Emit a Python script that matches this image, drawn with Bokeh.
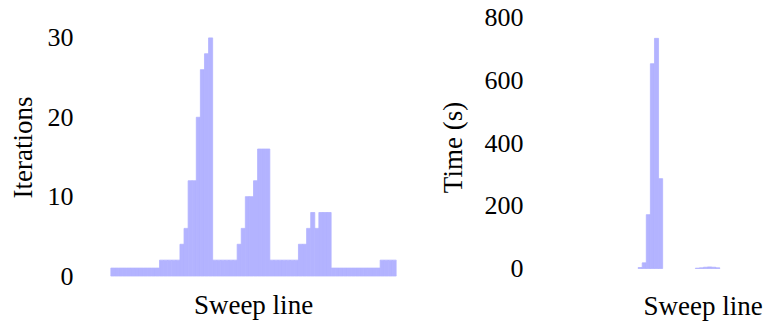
from bokeh.plotting import figure
from bokeh.layouts import row
from bokeh.models import ColumnDataSource, FixedTicker, Range1d, Title
from bokeh.embed import file_html
from bokeh.resources import INLINE

# ---- data ----
iterations = [1, 1, 1, 1, 1, 1, 1, 1, 1, 1, 1, 1,
              2, 2, 2, 2, 2,
              4, 6, 12, 12, 20, 26, 28, 30,
              2, 2, 2, 2, 2, 2,
              4, 6, 10, 10, 12, 16, 16, 16,
              2, 2, 2, 2, 2, 2, 2,
              4, 4, 6, 8, 6, 8, 8, 8,
              1, 1, 1, 1, 1, 1, 1, 1, 1, 1, 1, 1,
              2, 2, 2, 2]
time_s = [0, 0, 0, 0, 0, 0, 0, 0, 0, 0, 0, 0,
          0, 0, 0, 0, 0,
          0, 0, 3, 18, 172, 654, 735, 287,
          0, 0, 0, 0, 0, 0,
          0, 0, 1, 2, 4, 5, 4, 2,
          0, 0, 0, 0, 0, 0, 0,
          0, 0, 0, 0, 0, 0, 0, 0,
          0, 0, 0, 0, 0, 0, 0, 0, 0, 0, 0, 0,
          0, 0, 0, 0]
left_ticks = [0, 10, 20, 30]
right_ticks = [0, 200, 400, 600, 800]
x_label = "Sweep line"
left_ylabel = "Iterations"
right_ylabel = "Time (s)"

BAR = "#b3b3ff"
FONT = "Liberation Serif"
H = 324

def style(p, ticks, label, standoff):
    p.xaxis.visible = False
    p.xgrid.visible = False
    p.ygrid.visible = False
    p.outline_line_color = None
    ax = p.yaxis[0]
    ax.ticker = FixedTicker(ticks=ticks, minor_ticks=[])
    ax.axis_line_color = None
    ax.major_tick_line_color = None
    ax.minor_tick_line_color = None
    ax.major_tick_out = 0
    ax.major_tick_in = 0
    ax.minor_tick_out = 0
    ax.major_label_standoff = 37
    ax.major_label_text_font = FONT
    ax.major_label_text_font_size = "26px"
    ax.major_label_text_color = "#000000"
    ax.axis_label = label
    ax.axis_label_text_font = FONT
    ax.axis_label_text_font_size = "27px"
    ax.axis_label_text_font_style = "normal"
    ax.axis_label_text_color = "#000000"
    ax.axis_label_standoff = standoff

def xtitle(align, offset, standoff):
    return Title(text=x_label, align=align, offset=offset, standoff=standoff,
                 text_font=FONT, text_font_size="27px", text_font_style="normal",
                 text_color="#000000")

# ---- left: iterations ----
xs = [i + 0.5 for i in range(len(iterations))]
src1 = ColumnDataSource(dict(x=xs, top=iterations))
p1 = figure(width=420, height=H, output_backend="svg", toolbar_location=None,
            x_range=Range1d(0, 70), y_range=Range1d(-1.07, 33.45),
            min_border_left=110, min_border_right=24,
            min_border_top=10, min_border_bottom=40)
p1.vbar(x="x", top="top", bottom=0, width=1, source=src1,
        fill_color=BAR, line_color=BAR, line_width=0.8)
style(p1, left_ticks, left_ylabel, 7)
p1.add_layout(xtitle("center", 0, 7), "below")

# ---- right: time ----
xr = [i + 0.5 for i, v in enumerate(time_s) if v > 0]
tr = [v for v in time_s if v > 0]
src2 = ColumnDataSource(dict(x=xr, top=tr))
p2 = figure(width=343, height=H, output_backend="svg", toolbar_location=None,
            x_range=Range1d(0, 203 / 4.0857), y_range=Range1d(-51.1, 823.95),
            min_border_left=140, min_border_right=0,
            min_border_top=10, min_border_bottom=40)
p2.vbar(x="x", top="top", bottom=0, width=1, source=src2,
        fill_color=BAR, line_color=BAR, line_width=0.8)
style(p2, right_ticks, right_ylabel, 14)
p2.add_layout(xtitle("left", 83, 8), "below")

layout = row(p1, p2)
open("out.html", "w").write(file_html(layout, INLINE))
